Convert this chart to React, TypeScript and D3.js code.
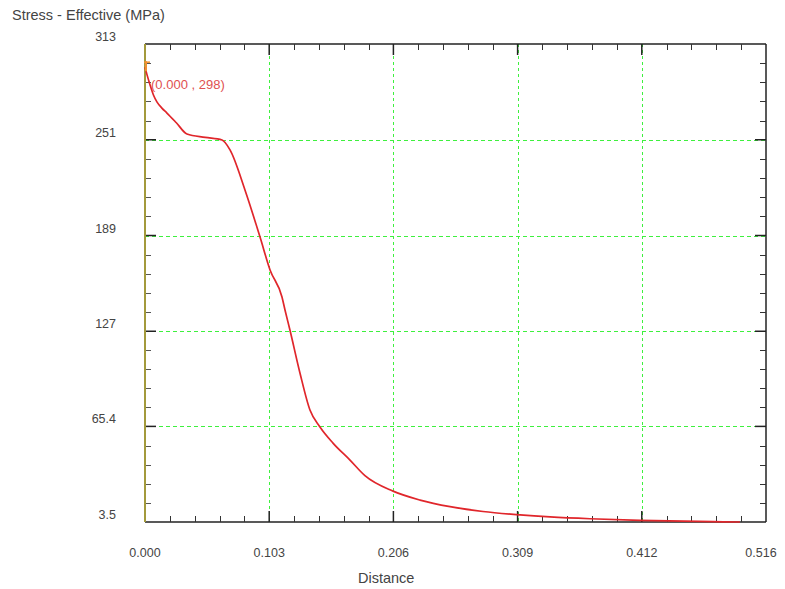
import React from "react";
import * as d3 from "d3";

const distance = [0, 0.0017, 0.0042, 0.0070, 0.0100, 0.0140, 0.0182, 0.0260, 0.0348, 0.0500, 0.0639, 0.0705, 0.0829, 0.0954, 0.1037, 0.1136, 0.1161, 0.1202, 0.1285, 0.1368, 0.1451, 0.1559, 0.1700, 0.1824, 0.2057, 0.2281, 0.2530, 0.2803, 0.3110, 0.3359, 0.3690, 0.4105, 0.4710, 0.4934];
const stress = [298, 293, 286.5, 280, 275.4, 271.5, 268.3, 262, 254.7, 252.5, 250.8, 244.4, 218.5, 188.0, 166.7, 149.2, 140.8, 127.8, 100.0, 76.0, 65.0, 54.6, 43.6, 33.5, 23.5, 17.7, 13.4, 10.3, 8.1, 6.8, 5.6, 4.6, 3.7, 3.5];
const xTicks = [0, 0.103, 0.206, 0.309, 0.412, 0.515];
const xTickLabels = ["0.000", "0.103", "0.206", "0.309", "0.412", "0.516"];
const yTicks = [3.5, 65.4, 127, 189, 251, 313];
const yTickLabels = ["3.5", "65.4", "127", "189", "251", "313"];
const title = "Stress - Effective (MPa)";
const xTitle = "Distance";
const pointLabel = "(0.000 , 298)";

export default function App() {
  const W = 785, H = 589;
  const L = 145, R = 766, T = 44, B = 522;
  const x = d3.scaleLinear().domain([0, 0.515]).range([L, R]);
  const y = d3.scaleLinear().domain([3.5, 313]).range([B, T]);
  const pts = distance.map((d, i) => [d, stress[i]] as [number, number]);
  const line = d3.line<[number, number]>().x(d => x(d[0])).y(d => y(d[1])).curve(d3.curveMonotoneX);
  const sx = (v: number) => Math.round(x(v)) + 0.5;
  const sy = (v: number) => Math.round(y(v)) + 0.5;

  const xMinor: number[] = [];
  for (let i = 0; i < xTicks.length - 1; i++) {
    for (let k = 1; k < 5; k++) xMinor.push(xTicks[i] + (xTicks[i + 1] - xTicks[i]) * k / 5);
  }
  const yMinor: number[] = [];
  for (let i = 0; i < yTicks.length - 1; i++) {
    for (let k = 1; k < 5; k++) yMinor.push(yTicks[i] + (yTicks[i + 1] - yTicks[i]) * k / 5);
  }
  const font = "'Liberation Sans', Arial, sans-serif";
  const grid = "#3ef03e";
  const txt = "#444";

  return (
    <svg width={W} height={H} style={{ position: "absolute", left: 0, top: 0, background: "#fff" }}>
      <text x={12} y={20} fontFamily={font} fontSize={14.5} fill={txt}>{title}</text>
      {/* grid */}
      {xTicks.slice(1, -1).map((t, i) => (
        <line key={"gx" + i} x1={sx(t)} x2={sx(t)} y1={T} y2={B} stroke={grid} strokeWidth={1} strokeDasharray="3,3" />
      ))}
      {yTicks.slice(1, -1).map((t, i) => (
        <line key={"gy" + i} x1={L} x2={R} y1={sy(t)} y2={sy(t)} stroke={grid} strokeWidth={1} strokeDasharray="4,3" />
      ))}
      {/* frame */}
      <line x1={L} x2={R} y1={T} y2={T} stroke="#222" strokeWidth={1.5} />
      <line x1={L} x2={R} y1={B} y2={B} stroke="#222" strokeWidth={1.5} />
      <line x1={R} x2={R} y1={T} y2={B} stroke="#222" strokeWidth={1.5} />
      {/* ticks */}
      {xMinor.map((t, i) => (
        <g key={"xm" + i}>
          <line x1={sx(t)} x2={sx(t)} y1={B} y2={B - 6} stroke="#333" />
          <line x1={sx(t)} x2={sx(t)} y1={T} y2={T + 6} stroke="#333" />
        </g>
      ))}
      {xTicks.slice(1, -1).map((t, i) => (
        <g key={"xM" + i}>
          <line x1={x(t)} x2={x(t)} y1={B} y2={B - 11} stroke="#222" strokeWidth={1.5} />
          <line x1={x(t)} x2={x(t)} y1={T} y2={T + 11} stroke="#222" strokeWidth={1.5} />
        </g>
      ))}
      {yMinor.map((t, i) => (
        <g key={"ym" + i}>
          <line x1={L} x2={L + 6} y1={sy(t)} y2={sy(t)} stroke="#555" />
          <line x1={R} x2={R - 6} y1={sy(t)} y2={sy(t)} stroke="#333" />
        </g>
      ))}
      {yTicks.slice(1, -1).map((t, i) => (
        <g key={"yM" + i}>
          <line x1={L} x2={L + 11} y1={y(t)} y2={y(t)} stroke="#222" strokeWidth={1.5} />
          <line x1={R} x2={R - 11} y1={y(t)} y2={y(t)} stroke="#222" strokeWidth={1.5} />
        </g>
      ))}
      <line x1={L} x2={L} y1={T} y2={B} stroke="#a39a3c" strokeWidth={2} />
      {/* labels */}
      {yTicks.map((t, i) => (
        <text key={"yl" + i} x={116} y={y(t) - 3} textAnchor="end" fontFamily={font} fontSize={12.5} fill={txt}>{yTickLabels[i]}</text>
      ))}
      {xTicks.map((t, i) => (
        <text key={"xl" + i} x={i === xTicks.length - 1 ? x(t) - 5 : x(t)} y={557} textAnchor="middle" fontFamily={font} fontSize={12.5} fill={txt}>{xTickLabels[i]}</text>
      ))}
      <text x={x(0.2)} y={583} textAnchor="middle" fontFamily={font} fontSize={14.5} fill={txt}>{xTitle}</text>
      {/* data */}
      <path d={line(pts) || ""} fill="none" stroke="#e0262b" strokeWidth={1.7} />
      <line x1={x(0) + 1} x2={x(0) + 1} y1={y(298) - 6} y2={y(298) + 4} stroke="#f09030" strokeWidth={2} />
      <line x1={x(0) - 1} x2={x(0) + 5} y1={y(298) - 5} y2={y(298) - 5} stroke="#f09030" strokeWidth={1.5} />
      <text x={x(0) + 6} y={y(298) + 22} fontFamily={font} fontSize={13} fill="#e05050">{pointLabel}</text>
    </svg>
  );
}
